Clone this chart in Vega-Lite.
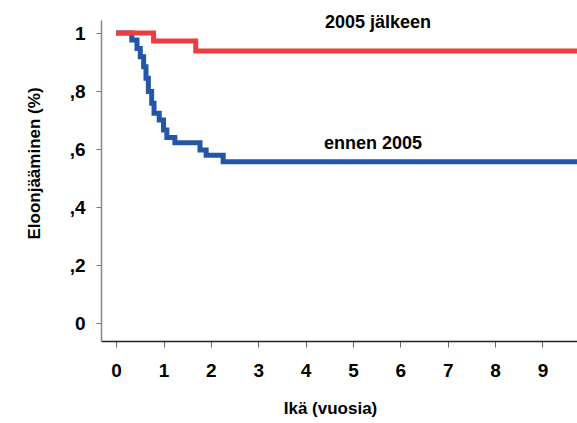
{
  "$schema": "https://vega.github.io/schema/vega-lite/v6.json",
  "width": 476,
  "height": 321,
  "autosize": "none",
  "padding": {"left": 101, "top": 20, "right": 0, "bottom": 82},
  "background": "white",
  "config": {"view": {"stroke": null}, "font": "Liberation Sans"},
  "datasets": {
    "curves": [
      {"group": "ennen 2005", "t": 0, "S": 1},
      {"group": "ennen 2005", "t": 0.33, "S": 0.976},
      {"group": "ennen 2005", "t": 0.44, "S": 0.947},
      {"group": "ennen 2005", "t": 0.51, "S": 0.918},
      {"group": "ennen 2005", "t": 0.58, "S": 0.884},
      {"group": "ennen 2005", "t": 0.63, "S": 0.844},
      {"group": "ennen 2005", "t": 0.68, "S": 0.798},
      {"group": "ennen 2005", "t": 0.75, "S": 0.758},
      {"group": "ennen 2005", "t": 0.80, "S": 0.723},
      {"group": "ennen 2005", "t": 0.91, "S": 0.700},
      {"group": "ennen 2005", "t": 1.00, "S": 0.666},
      {"group": "ennen 2005", "t": 1.07, "S": 0.640},
      {"group": "ennen 2005", "t": 1.24, "S": 0.622},
      {"group": "ennen 2005", "t": 1.77, "S": 0.597},
      {"group": "ennen 2005", "t": 1.90, "S": 0.579},
      {"group": "ennen 2005", "t": 2.26, "S": 0.556},
      {"group": "ennen 2005", "t": 9.8, "S": 0.556},
      {"group": "2005 jälkeen", "t": 0, "S": 1},
      {"group": "2005 jälkeen", "t": 0.79, "S": 0.973},
      {"group": "2005 jälkeen", "t": 1.68, "S": 0.938},
      {"group": "2005 jälkeen", "t": 9.8, "S": 0.938}
    ],
    "labels": [
      {"label": "2005 jälkeen", "t": 4.41, "S": 1.034},
      {"label": "ennen 2005", "t": 4.39, "S": 0.616}
    ]
  },
  "layer": [
    {
      "data": {"name": "curves"},
      "transform": [{"filter": "datum.group == 'ennen 2005'"}],
      "mark": {"type": "line", "interpolate": "step-after", "strokeWidth": 5, "clip": true, "color": "#2356a6"},
      "encoding": {
        "x": {
          "field": "t", "type": "quantitative",
          "scale": {"domain": [-0.32, 9.73], "nice": false, "zero": false},
          "axis": {
            "title": "Ikä (vuosia)",
            "values": [0, 1, 2, 3, 4, 5, 6, 7, 8, 9],
            "format": "d",
            "grid": false,
            "labelFont": "Liberation Sans",
            "labelFontSize": 19,
            "labelFontWeight": "bold",
            "labelColor": "black",
            "labelPadding": 14,
            "tickSize": 6,
            "tickColor": "#666",
            "domainColor": "#222",
            "domainWidth": 1.5,
            "titleFont": "Liberation Sans",
            "titleFontSize": 17,
            "titleFontWeight": "bold",
            "titleColor": "black",
            "titlePadding": 20,
            "titleX": 229
          }
        },
        "y": {
          "field": "S", "type": "quantitative",
          "scale": {"domain": [-0.062, 1.045], "nice": false, "zero": false},
          "axis": {
            "title": "Eloonjääminen (%)",
            "values": [0, 0.1, 0.2, 0.3, 0.4, 0.5, 0.6, 0.7, 0.8, 0.9, 1],
            "labelExpr": "datum.value == 0 ? '0' : (datum.value == 1 ? '1' : (round(datum.value * 10) % 2 == 0 ? ',' + round(datum.value * 10) : ''))",
            "grid": false,
            "labelFont": "Liberation Sans",
            "labelFontSize": 19,
            "labelFontWeight": "bold",
            "labelColor": "black",
            "labelPadding": 11,
            "tickSize": 5,
            "tickColor": "#777",
            "domainColor": "#888",
            "domainWidth": 1.5,
            "titleFont": "Liberation Sans",
            "titleFontSize": 17,
            "titleFontWeight": "bold",
            "titleColor": "black",
            "titleX": -58,
            "titleY": 143
          }
        }
      }
    },
    {
      "data": {"name": "curves"},
      "transform": [{"filter": "datum.group == '2005 jälkeen'"}],
      "mark": {"type": "line", "interpolate": "step-after", "strokeWidth": 5, "clip": true, "color": "#ee3d42"},
      "encoding": {
        "x": {"field": "t", "type": "quantitative"},
        "y": {"field": "S", "type": "quantitative"}
      }
    },
    {
      "data": {"name": "labels"},
      "mark": {"type": "text", "align": "left", "baseline": "middle", "fontSize": 18, "fontWeight": "bold", "font": "Liberation Sans", "color": "black"},
      "encoding": {
        "x": {"field": "t", "type": "quantitative"},
        "y": {"field": "S", "type": "quantitative"},
        "text": {"field": "label"}
      }
    }
  ]
}
